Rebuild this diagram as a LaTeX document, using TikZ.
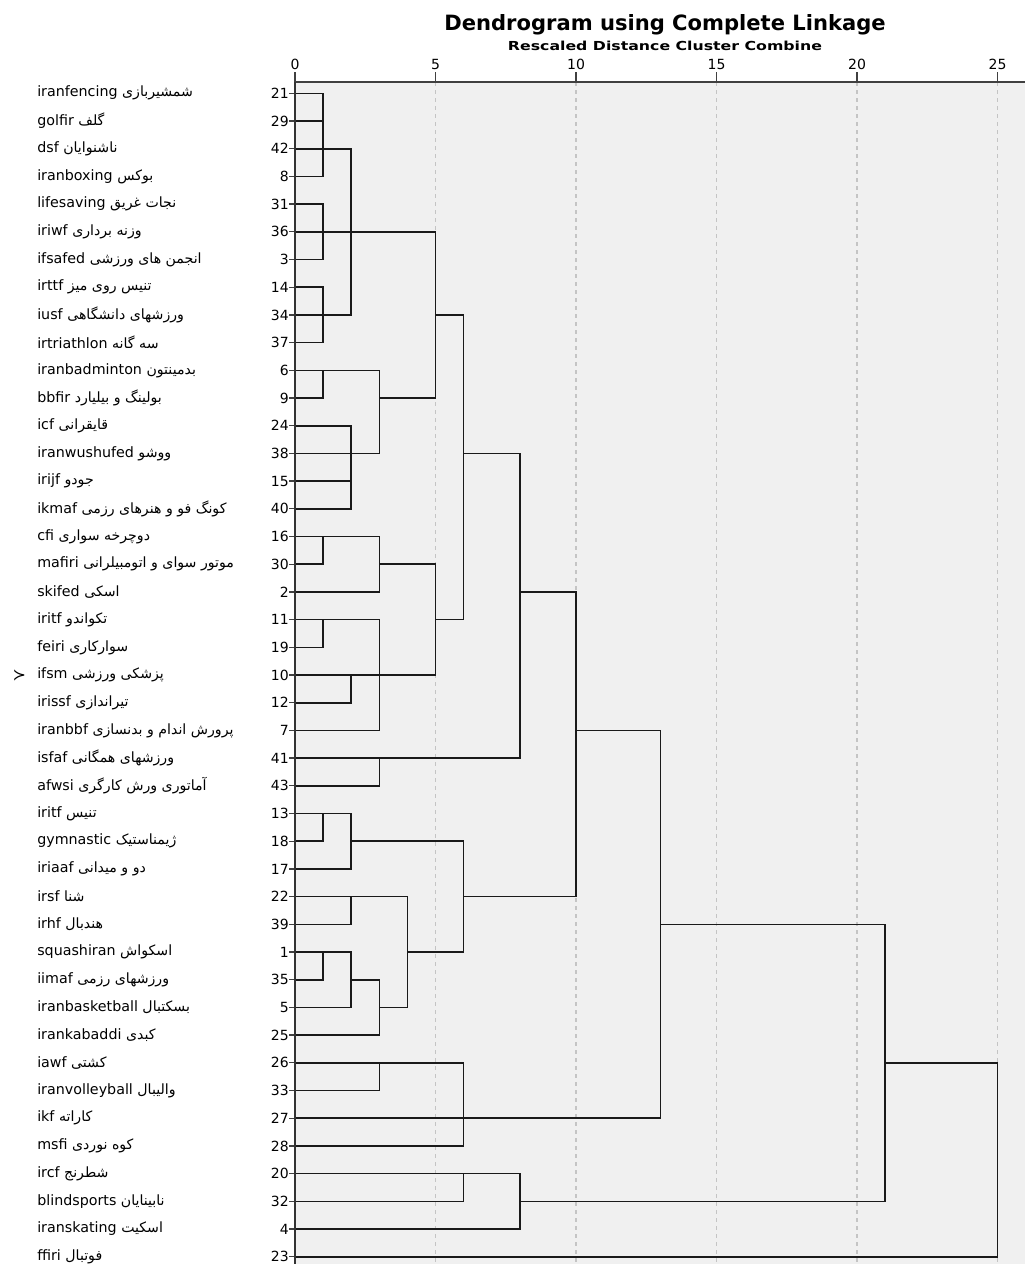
\documentclass[tikz,border=0pt]{standalone}
\usepackage{fontspec}
\setmainfont{DejaVu Sans}
\newfontfamily\fa[Script=Arabic]{DejaVu Sans}
\newfontfamily\widebold[FakeStretch=1.27]{DejaVu Sans Bold}
\TeXXeTstate=1
\usepackage{tikz}
\usetikzlibrary{positioning, calc}

\definecolor{plotbg}{HTML}{F0F0F0}
\definecolor{gridcol}{HTML}{C4C4C4}
\definecolor{linkcol}{HTML}{1A1A1A}

\begin{document}
\begin{tikzpicture}[
    x=0.75pt, y=-0.75pt,
    link/.style={draw=linkcol, line width=1.2pt},
    gridline/.style={draw=gridcol, line width=0.8pt, dash pattern=on 3pt off 3pt},
    axisline/.style={draw=black!75, line width=1pt},
    axislabel/.style={inner sep=0pt, font=\fontsize{10.5}{12}\selectfont},
    leaf/.style={anchor=west, inner sep=0pt, font=\fontsize{10.7}{12}\selectfont},
    num/.style={anchor=east, inner sep=0pt, font=\fontsize{10.5}{12}\selectfont},
    title/.style={inner sep=0pt, font=\bfseries\fontsize{15.8}{18}\selectfont},
    subtitle/.style={inner sep=0pt, font=\widebold\fontsize{9.3}{11}\selectfont}
]
\fill[white] (0,0) rectangle (1025,1264);
\useasboundingbox (0,0) rectangle (1025,1264);

% plot area and scale
\fill[plotbg] (295,82) rectangle (1025,1264);
\foreach \d in {5,10,...,25}
    \draw[gridline] ({295+28.1*\d},82) -- ({295+28.1*\d},1264);
\draw[axisline] (295,82) -- (1025,82);
\foreach \d in {0,5,...,25} {
    \draw[axisline] ({295+28.1*\d},72) -- ({295+28.1*\d},82);
    \node[axislabel] (t\d) at ({295+28.1*\d},64) {\d};
}

\node[title] (title) at (665,25) {Dendrogram using Complete Linkage};
\node[subtitle] (subtitle) at (665,46) {Rescaled Distance Cluster Combine};

% cases
\foreach \k/\n/\en/\pe in {
    0/21/iranfencing/شمشیربازی, 1/29/golfir/گلف, 2/42/dsf/ناشنوایان,
    3/8/iranboxing/بوکس, 4/31/lifesaving/نجات غریق, 5/36/iriwf/وزنه برداری,
    6/3/ifsafed/انجمن های ورزشی, 7/14/irttf/تنیس روی میز, 8/34/iusf/ورزشهای دانشگاهی,
    9/37/irtriathlon/سه گانه, 10/6/iranbadminton/بدمینتون, 11/9/bbfir/بولینگ و بیلیارد,
    12/24/icf/قایقرانی, 13/38/iranwushufed/ووشو, 14/15/irijf/جودو,
    15/40/ikmaf/کونگ فو و هنرهای رزمی, 16/16/cfi/دوچرخه سواری,
    17/30/mafiri/موتور سوای و اتومبیلرانی, 18/2/skifed/اسکی, 19/11/iritf/تکواندو,
    20/19/feiri/سوارکاری, 21/10/ifsm/پزشکی ورزشی, 22/12/irissf/تیراندازی,
    23/7/iranbbf/پرورش اندام و بدنسازی, 24/41/isfaf/ورزشهای همگانی,
    25/43/afwsi/آماتوری ورش کارگری, 26/13/iritf/تنیس, 27/18/gymnastic/ژیمناستیک,
    28/17/iriaaf/دو و میدانی, 29/22/irsf/شنا, 30/39/irhf/هندبال,
    31/1/squashiran/اسکواش, 32/35/iimaf/ورزشهای رزمی, 33/5/iranbasketball/بسکتبال,
    34/25/irankabaddi/کبدی, 35/26/iawf/کشتی, 36/33/iranvolleyball/والیبال,
    37/27/ikf/کاراته, 38/28/msfi/کوه نوردی, 39/20/ircf/شطرنج,
    40/32/blindsports/نابینایان, 41/4/iranskating/اسکیت, 42/23/ffiri/فوتبال} {
    \node[leaf] (lab\n) at (37,{93.3+27.7*\k}) {\en\ {\fa\fontsize{10.6}{11}\selectfont\beginR\pe\endR}};
    \node[num] (num\n) at (289,{93.3+27.7*\k}) {\n};
    \coordinate (s\n) at (295,{93.3+27.7*\k});
    \draw[axisline] (num\n.east) -- (s\n);
}
\node[inner sep=0pt, font=\fontsize{12}{12}\selectfont, left=8pt of lab10.west] (mark) {≻};

% merges: name / distance / row
\foreach \c/\h/\r in {
    ca/1/2, cb/1/5, cc/1/8, cd/2/5, ce/1/10, cf/2/13, cg/3/11, ch/5/8,
    ci/1/16, cj/3/17, ck/1/19, cl/2/21, cm/3/21, cn/5/19, co/6/13,
    cp/3/24, cq/8/18, cr/1/26, cs/2/27, ct/2/29, cu/1/31, cv/2/32,
    cw/3/33, cx/4/31, cy/6/29, cz/10/23, da/3/35, db/6/37, dc/13/30,
    dd/6/39, de/8/40, df/21/35, dg/25/35}
    \coordinate (\c) at ({295+28.1*\h},{93.3+27.7*\r});

\foreach \a/\b in {
    s21/ca, s29/ca, s42/ca, s8/ca, s31/cb, s36/cb, s3/cb,
    s14/cc, s34/cc, s37/cc, ca/cd, cb/cd, cc/cd,
    s6/ce, s9/ce, s24/cf, s38/cf, s15/cf, s40/cf, ce/cg, cf/cg, cd/ch, cg/ch,
    s16/ci, s30/ci, ci/cj, s2/cj, s11/ck, s19/ck, s10/cl, s12/cl,
    ck/cm, cl/cm, s7/cm, cj/cn, cm/cn, ch/co, cn/co, s41/cp, s43/cp, co/cq, cp/cq,
    s13/cr, s18/cr, cr/cs, s17/cs, s22/ct, s39/ct, s1/cu, s35/cu, cu/cv, s5/cv,
    cv/cw, s25/cw, ct/cx, cw/cx, cs/cy, cx/cy, cq/cz, cy/cz,
    s26/da, s33/da, da/db, s27/db, s28/db, cz/dc, db/dc,
    s20/dd, s32/dd, dd/de, s4/de, dc/df, de/df, df/dg, s23/dg}
    \draw[link] (\a) -| (\b);

\draw[draw=black!80, line width=1.6pt] (295,82) -- (295,1264);
\end{tikzpicture}
\end{document}
